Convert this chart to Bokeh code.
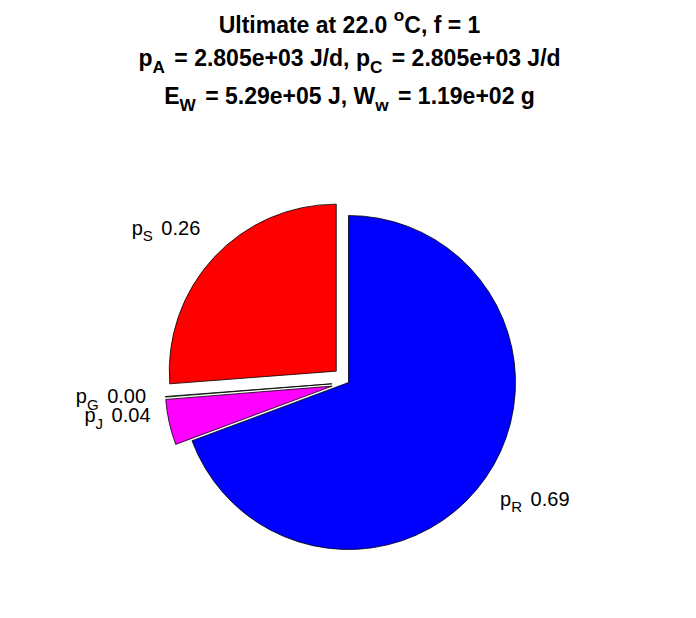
import numpy as np
from bokeh.plotting import figure
from bokeh.models import Range1d
from bokeh.core.properties import value
from bokeh.embed import file_html
from bokeh.resources import INLINE

# ---------------- data ----------------
slice_names = ["S", "G", "J", "R"]
slice_values = [0.262, 0.0006, 0.044, 0.693]
slice_explode = [1, 1, 1, 0]
slice_colors = ["#FF0000", "#00FF00", "#FF00FF", "#0000FF"]

temperature = 22.0
f_value = 1
p_A = 2.805e03
p_C = 2.805e03
E_W = 5.29e05
W_w = 1.19e02

# ---------------- layout / style ----------------
W, H = 680, 602
PX = 167.0            # pixels per pie radius
CX, CY = 348.0, 382.0  # pie centre on the canvas (pixels from top-left)
EXPLODE = 0.1
LABEL_R = 1.2
label_nudge_px = [(11, -7), (14, -3), (14, -14), (-13, 2)]  # (dx right, dy down)
FONT = "Liberation Sans"
LABEL_SIZE = 20
TITLE_SIZE = 23
SUB_SCALE = 0.75
SUB_GAP = 3.0

BOLD_W = {' ': 278, '.': 278, ',': 278, '=': 584, '+': 584, '/': 278, 'p': 611, 'A': 722,
          'C': 722, 'E': 667, 'W': 944, 'w': 778, 'J': 556, 'd': 611, 'e': 556, 'g': 611,
          'U': 722, 'l': 278, 't': 333, 'i': 278, 'm': 889, 'a': 556, 'f': 333, 'o': 611}
REG_W = {' ': 278, '.': 278, ',': 278, 'p': 556, 'S': 667, 'G': 778, 'J': 500, 'R': 722,
         'o': 556, '=': 584, '+': 584}
for d in "0123456789":
    BOLD_W[d] = 556
    REG_W[d] = 556


def text_width(s, size, bold):
    table = BOLD_W if bold else REG_W
    return sum(table.get(ch, 556) for ch in s) * size / 1000.0


def to_data(X, Y):
    return (X - CX) / PX, (CY - Y) / PX


p = figure(width=W, height=H, output_backend="svg", toolbar_location=None,
           x_range=Range1d(-CX / PX, (W - CX) / PX),
           y_range=Range1d(-(H - CY) / PX, CY / PX),
           min_border=0, min_border_left=0, min_border_right=0,
           min_border_top=0, min_border_bottom=0)
p.axis.visible = False
p.grid.visible = False
p.outline_line_color = None
p.background_fill_color = "white"
p.border_fill_color = "white"


def rich(parts, x, y, size, bold, align):
    """parts: list of (text, kind) with kind in 'n', 'sub', 'sup'"""
    pieces = []
    for txt, kind in parts:
        fs = size * (SUB_SCALE if kind != 'n' else 1.0)
        w = text_width(txt, fs, bold)
        if kind == 'sub':
            w += SUB_GAP
        lead = text_width(txt[:len(txt) - len(txt.lstrip(' '))], fs, bold)
        dy = 0.0
        if kind == 'sub':
            dy = 0.40 * size
        elif kind == 'sup':
            dy = -0.45 * size
        pieces.append((txt.strip(' '), fs, w, lead, dy))
    total = sum(pc[2] for pc in pieces)
    if align == "center":
        off = -total / 2.0
    elif align == "right":
        off = -total
    else:
        off = 0.0
    for txt, fs, w, lead, dy in pieces:
        p.text(x=[x], y=[y], text=[txt], x_offset=[off + lead], y_offset=[dy],
               text_font=value(FONT), text_font_size=f"{fs:.1f}px",
               text_font_style="bold" if bold else "normal",
               text_align="left", text_baseline="alphabetic", text_color="black")
        off += w


# ---------------- pie ----------------
vals = np.array(slice_values, dtype=float)
fr = vals / vals.sum()
starts = np.pi / 2 + 2 * np.pi * np.concatenate([[0.0], np.cumsum(fr)[:-1]])
ends = starts + 2 * np.pi * fr
mids = (starts + ends) / 2
ex = np.array(slice_explode, dtype=float) * EXPLODE
xs = ex * np.cos(mids)
ys = ex * np.sin(mids)

p.wedge(x=xs, y=ys, radius=1.0, start_angle=starts, end_angle=ends,
        direction="anticlock", fill_color=slice_colors, line_color="black",
        line_width=0.8)

for i, name in enumerate(slice_names):
    lx = xs[i] + LABEL_R * np.cos(mids[i])
    ly = ys[i] + LABEL_R * np.sin(mids[i])
    dx, dy = label_nudge_px[i]
    lx += dx / PX
    ly -= dy / PX
    align = "right" if np.cos(mids[i]) < 0 else "left"
    rich([("p", 'n'), (name, 'sub'), (f" {fr[i]:.2f}", 'n')], lx, ly, LABEL_SIZE, False, align)

# ---------------- title ----------------
tx, ty1 = to_data(349, 24.5)
_, ty2 = to_data(349, 57)
_, ty3 = to_data(349, 95.5)
rich([(f"Ultimate at {temperature:.1f} ", 'n'), ("o", 'sup'), (f"C, f = {f_value}", 'n')],
     tx, ty1, TITLE_SIZE, True, "center")
rich([("p", 'n'), ("A", 'sub'), (f" = {p_A:.3e} J/d, p", 'n'), ("C", 'sub'),
      (f" = {p_C:.3e} J/d", 'n')], tx, ty2, TITLE_SIZE, True, "center")
rich([("E", 'n'), ("W", 'sub'), (f" = {E_W:.2e} J, W", 'n'), ("w", 'sub'),
      (f" = {W_w:.2e} g", 'n')], tx, ty3, TITLE_SIZE, True, "center")

open("out.html", "w").write(file_html(p, INLINE))
